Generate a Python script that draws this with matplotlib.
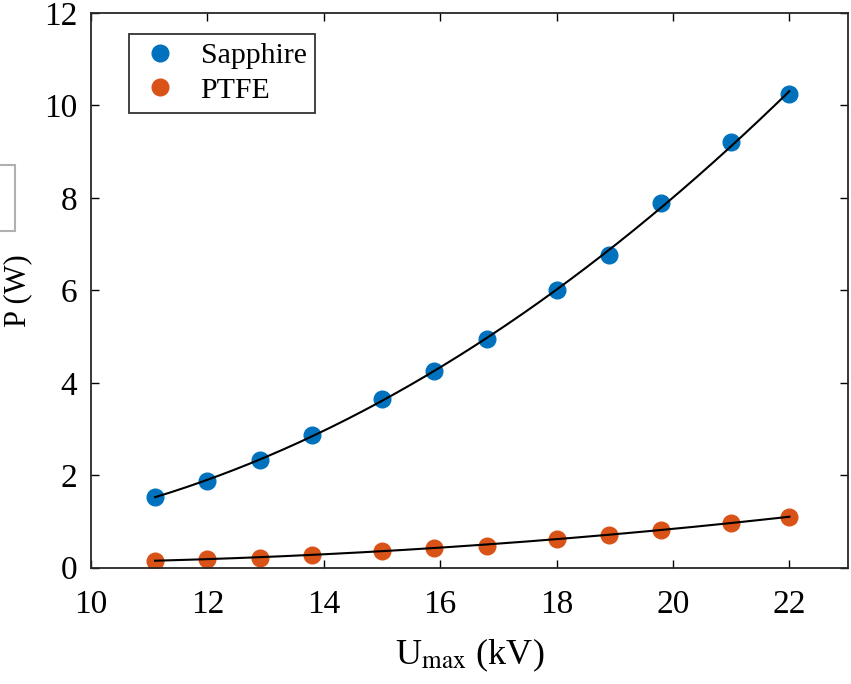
import matplotlib.pyplot as plt
import matplotlib.patches as patches
import numpy as np

plt.rcParams['font.family'] = ['Liberation Serif', 'DejaVu Serif']
plt.rcParams['mathtext.fontset'] = 'stix'

# measured points
u_kv = [11.1, 12.0, 12.9, 13.8, 15.0, 15.9, 16.8, 18.0, 18.9, 19.8, 21.0, 22.0]
p_sapphire = [1.53, 1.88, 2.33, 2.88, 3.65, 4.25, 4.95, 6.0, 6.77, 7.88, 9.2, 10.25]
p_ptfe = [0.15, 0.19, 0.22, 0.28, 0.37, 0.43, 0.48, 0.63, 0.71, 0.82, 0.97, 1.10]

blue = '#0072BD'
orange = '#D95319'

fig = plt.figure(figsize=(8.51, 6.84), dpi=100)
ax = fig.add_axes([0.107, 0.170, 0.889, 0.811])

u = np.array(u_kv)
uf = np.linspace(u.min(), u.max(), 200)
for p in (p_sapphire, p_ptfe):
    c = np.polyfit(u, p, 2)
    ax.plot(uf, np.polyval(c, uf), color='black', lw=1.5, zorder=3)

ax.plot(u, p_sapphire, 'o', color=blue, ms=12, label='Sapphire', zorder=2)
ax.plot(u, p_ptfe, 'o', color=orange, ms=12, label='PTFE', zorder=2)

ax.set_xlim(10, 23)
ax.set_ylim(0, 12)
ax.set_xticks(range(10, 23, 2))
ax.set_yticks(range(0, 13, 2))
ax.tick_params(direction='in', length=6, width=1, labelsize=24, top=True, right=True, pad=10)
ax.tick_params(axis='x', pad=16)
for s in ax.spines.values():
    s.set_linewidth(1.3)
    s.set_color('#262626')

ax.set_xlabel(r'U$_{\mathrm{max}}$ (kV)', fontsize=26, labelpad=12)
ax.set_ylabel('P (W)', fontsize=22, labelpad=8)

leg = ax.legend(loc='upper left', bbox_to_anchor=(0.050, 0.963), fontsize=21.5,
                frameon=True, fancybox=False, edgecolor='black', handletextpad=0.6,
                handlelength=1.5, borderpad=0.3, borderaxespad=0, labelspacing=0.25)
leg.get_frame().set_linewidth(1.3)

# stray grey box at the left edge
fig.patches.append(patches.Rectangle((-0.01, 1 - 231 / 684), 0.028, 66 / 684,
                                     transform=fig.transFigure, fill=False,
                                     edgecolor='#b0b0b0', lw=1.5))

fig.savefig('out.png', dpi=100)
